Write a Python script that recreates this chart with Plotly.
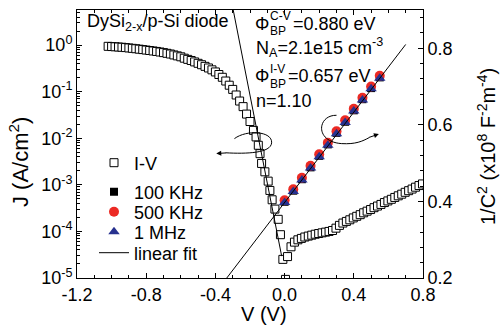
import plotly.graph_objects as go

# ---------------- data ----------------
# I-V: bias (V) and log10 |J| (A/cm^2)
iv_v = [-1.02, -1.00, -0.98, -0.96, -0.94, -0.92, -0.90, -0.88, -0.86, -0.84,
        -0.82, -0.80, -0.78, -0.76, -0.74, -0.72, -0.70, -0.68, -0.66, -0.64,
        -0.62, -0.60, -0.58, -0.56, -0.54, -0.52, -0.50, -0.48, -0.46, -0.44,
        -0.42, -0.40, -0.38, -0.36, -0.34, -0.32, -0.30, -0.28, -0.26, -0.24,
        -0.22, -0.20, -0.18, -0.165, -0.152, -0.142, -0.133, -0.114, -0.095, -0.085,
        -0.072, -0.056, -0.037, -0.024, -0.010, 0.005,
        0.017, 0.037, 0.057, 0.077, 0.097, 0.117, 0.137, 0.157, 0.177, 0.197,
        0.217, 0.237, 0.257, 0.277, 0.297, 0.317, 0.337, 0.357, 0.377, 0.397,
        0.417, 0.437, 0.457, 0.477, 0.497, 0.517, 0.537, 0.557, 0.577, 0.597,
        0.617, 0.637, 0.657, 0.677, 0.697, 0.717, 0.737, 0.757, 0.777, 0.797]
iv_log10_j = [-0.025, -0.030, -0.035, -0.040, -0.045, -0.052, -0.060, -0.068, -0.077, -0.086,
              -0.095, -0.105, -0.115, -0.125, -0.135, -0.147, -0.160, -0.175, -0.190, -0.210,
              -0.230, -0.250, -0.280, -0.305, -0.330, -0.360, -0.390, -0.420, -0.455, -0.490,
              -0.530, -0.575, -0.630, -0.690, -0.770, -0.860, -0.950, -1.070, -1.200, -1.320,
              -1.480, -1.640, -1.830, -1.970, -2.150, -2.330, -2.540, -2.720, -2.920, -3.120,
              -3.320, -3.520, -3.740, -4.070, -4.600, -5.030,
              -4.540, -4.330, -4.230, -4.180, -4.150, -4.120, -4.100, -4.080, -4.060, -4.045,
              -4.030, -4.015, -4.000, -3.980, -3.930, -3.870, -3.820, -3.785, -3.750, -3.710,
              -3.675, -3.640, -3.600, -3.565, -3.530, -3.490, -3.455, -3.420, -3.380, -3.345,
              -3.310, -3.270, -3.235, -3.200, -3.160, -3.125, -3.090, -3.050, -3.015, -2.980]

# linear fit on the I-V (semi-log) branch: end points (V, log10 J)
iv_fit_v = [-0.32, -0.017]
iv_fit_log10_j = [1.19, -4.53]

# C-V: 1/C^2 (x1e8 F^-2 m^-4)
cv_v = [0.00, 0.05, 0.10, 0.15, 0.20, 0.25, 0.30, 0.35, 0.40, 0.45, 0.50, 0.55]
cv_100k = [0.399, 0.428, 0.458, 0.489, 0.519, 0.549, 0.579, 0.608, 0.638, 0.667, 0.696, 0.724]
cv_500k = [0.403, 0.432, 0.462, 0.493, 0.523, 0.553, 0.583, 0.612, 0.642, 0.671, 0.700, 0.728]
cv_1m = [0.397, 0.426, 0.456, 0.487, 0.517, 0.547, 0.577, 0.606, 0.636, 0.665, 0.694, 0.722]

# linear fit of 1/C^2
cv_fit_v = [-0.336, 0.70]
cv_fit_val = [0.199, 0.810]

# tick labels
x_tickvals = [-1.2, -0.8, -0.4, 0.0, 0.4, 0.8]
x_ticktext = ["-1.2", "-0.8", "-0.4", "0.0", "0.4", "0.8"]
y_tickvals = [1e-5, 1e-4, 1e-3, 1e-2, 1e-1, 1e0]
y_ticktext = ["10<sup>-5</sup>", "10<sup>-4</sup>", "10<sup>-3</sup>",
              "10<sup>-2</sup>", "10<sup>-1</sup>", "10<sup>0</sup>"]
y2_tickvals = [0.2, 0.4, 0.6, 0.8]
y2_ticktext = ["0.2", "0.4", "0.6", "0.8"]

# ---------------- figure ----------------
FONT = "Liberation Sans, Arial, Helvetica, sans-serif"
W, H = 501, 328
ML, MR, MT, MB = 77, 78, 10, 50


def px(xp):
    return (xp - ML) / (W - ML - MR)


def py(yp):
    return (H - MB - yp) / (H - MT - MB)


fig = go.Figure()

fig.add_trace(go.Scatter(
    x=iv_v, y=[10 ** v for v in iv_log10_j], mode="markers", name="I-V",
    legend="legend",
    marker=dict(symbol="square", size=8, color="white",
                line=dict(color="black", width=1)),
))
fig.add_trace(go.Scatter(
    x=cv_v, y=cv_100k, yaxis="y2", mode="markers", name="100 KHz", legend="legend2",
    marker=dict(symbol="square", size=8, color="black", line=dict(width=0)),
))
fig.add_trace(go.Scatter(
    x=cv_v, y=cv_500k, yaxis="y2", mode="markers", name="500 KHz", legend="legend3",
    marker=dict(symbol="circle", size=10, color="#ec2a24", line=dict(width=0)),
))
fig.add_trace(go.Scatter(
    x=cv_v, y=cv_1m, yaxis="y2", mode="markers", name="1 MHz", legend="legend4",
    marker=dict(symbol="triangle-up", size=10, color="#27318f", line=dict(width=0)),
))
fig.add_trace(go.Scatter(
    x=iv_fit_v, y=[10 ** v for v in iv_fit_log10_j], mode="lines", name="linear fit",
    showlegend=False, line=dict(color="black", width=1),
))
fig.add_trace(go.Scatter(
    x=cv_fit_v, y=cv_fit_val, yaxis="y2", mode="lines", name="linear fit",
    legend="legend5", line=dict(color="black", width=1),
))

axis_common = dict(showline=True, linecolor="black", linewidth=1, ticks="inside",
                   tickcolor="black", showgrid=False, zeroline=False,
                   tickfont=dict(family=FONT, size=18, color="black"))


def legend_at(yp):
    return dict(x=px(94), y=py(yp), xanchor="left", yanchor="middle",
                bgcolor="rgba(0,0,0,0)", font=dict(family=FONT, size=18, color="black"),
                itemwidth=30)


fig.update_layout(
    width=W, height=H,
    margin=dict(l=ML, r=MR, t=MT, b=MB),
    paper_bgcolor="white", plot_bgcolor="white",
    font=dict(family=FONT, size=18, color="black"),
    xaxis=dict(range=[-1.2, 0.8], tickmode="array", tickvals=x_tickvals,
               ticktext=x_ticktext, ticklen=5, mirror="ticks",
               minor=dict(dtick=0.1, ticks="inside", ticklen=3, tickcolor="black"),
               **axis_common),
    yaxis=dict(type="log", range=[-5, 0.755], tickmode="array", tickvals=y_tickvals,
               ticktext=y_ticktext, ticklen=5,
               minor=dict(tickvals=[m * 10 ** e for e in range(-5, 1) for m in range(2, 10)],
                          ticks="inside", ticklen=2.5, tickcolor="black"),
               **axis_common),
    yaxis2=dict(overlaying="y", side="right", range=[0.2, 0.9], tickmode="array",
                tickvals=y2_tickvals, ticktext=y2_ticktext, ticklen=5,
                minor=dict(dtick=0.04, ticks="inside", ticklen=3, tickcolor="black"),
                **axis_common),
    legend=legend_at(163),
    legend2=legend_at(192),
    legend3=legend_at(212),
    legend4=legend_at(232),
    legend5=legend_at(253),
    showlegend=True,
)

ann = []


def text(t, xp, yp, size=18, xanchor="left", angle=0):
    ann.append(dict(text=t, x=px(xp), y=py(yp), xref="paper", yref="paper",
                    xanchor=xanchor, yanchor="middle", showarrow=False,
                    textangle=angle, font=dict(family=FONT, size=size, color="black")))


text("DySi<sub>2-x</sub>/p-Si diode", 85, 23)
text("\u03a6", 253, 24)
text("C-V", 268, 16.5, size=12)
text("BP", 268, 31.5, size=12)
text("=0.880 eV", 291, 24)
text("N<sub>A</sub>=2.1e15 cm<sup>-3</sup>", 254, 48)
text("\u03a6", 253, 76)
text("I-V", 268, 68.5, size=12)
text("BP", 268, 83.5, size=12)
text("=0.657 eV", 286, 76)
text("n=1.10", 254, 101)
# axis titles
text("V (V)", 264, 314, size=20, xanchor="center")
text("J (A/cm<sup>2</sup>)", 19, 162, size=22, xanchor="center", angle=-90)
text("1/C<sup>2</sup> (x10<sup>8</sup> F<sup>-2</sup>m<sup>-4</sup>)", 486, 147,
     size=20, xanchor="center", angle=-90)

# arrowheads of the two curved arrows
ann.append(dict(x=-0.395, y=0.525, xref="x", yref="y2", ax=-0.33, ay=0.527,
                axref="x", ayref="y2", text="", showarrow=True, arrowhead=2,
                arrowsize=1, arrowwidth=1, arrowcolor="black"))
ann.append(dict(x=0.545, y=0.576, xref="x", yref="y2", ax=0.48, ay=0.566,
                axref="x", ayref="y2", text="", showarrow=True, arrowhead=2,
                arrowsize=1, arrowwidth=1, arrowcolor="black"))
fig.update_layout(annotations=ann)

fig.add_shape(type="path", xref="x", yref="y2",
              path="M -0.290,0.564 C -0.22,0.588 -0.07,0.584 -0.075,0.553 "
                   "C -0.08,0.526 -0.22,0.524 -0.34,0.527",
              line=dict(color="black", width=1))
fig.add_shape(type="path", xref="x", yref="y2",
              path="M 0.300,0.625 C 0.19,0.626 0.17,0.556 0.33,0.551 "
                   "C 0.41,0.549 0.45,0.557 0.49,0.567",
              line=dict(color="black", width=1))

fig.write_html("out.html")
